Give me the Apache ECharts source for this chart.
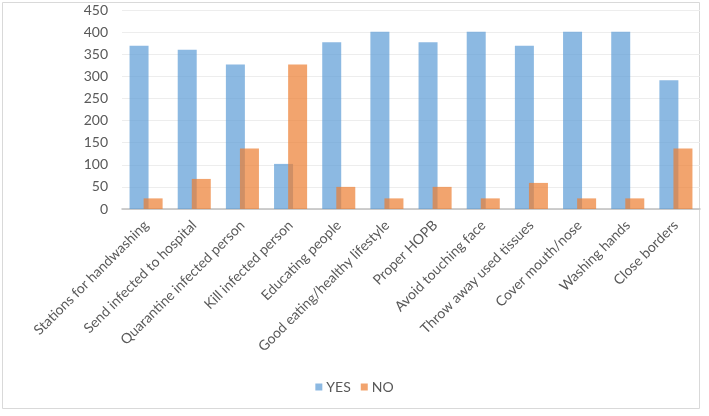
<!DOCTYPE html>
<html>
<head>
<meta charset="utf-8">
<script src="https://cdn.jsdelivr.net/npm/echarts@6/dist/echarts.min.js"></script>
<style>
html,body{margin:0;padding:0;background:#fff;}
#c{width:709px;height:416px;}
</style>
</head>
<body>
<div id="c"></div>
<script>
const categories = ["Stations for handwashing","Send infected to hospital","Quarantine infected person","Kill infected person","Educating people","Good eating/healthy lifestyle","Proper HOPB","Avoid touching face","Throw away used tissues","Cover mouth/nose","Washing hands","Close borders"];
const yesValues = [369,360,327,102,377,401,377,401,369,401,401,291];
const noValues = [24,68,137,327,50,24,50,24,59,24,24,137];
const seriesNames = ["YES","NO"];

const chart = echarts.init(document.getElementById('c'), null, {renderer:'canvas'});
const font = 'Lato, "Open Sans", sans-serif';
chart.setOption({
  animation:false,
  backgroundColor:'#fff',
  graphic:[{type:'rect',shape:{x:2.5,y:2.5,width:697,height:406},style:{fill:'none',stroke:'#D9D9D9',lineWidth:1},silent:true}],
  grid:{left:122,right:9,top:10,bottom:207,containLabel:false},
  legend:{
    data:seriesNames,bottom:17,left:'center',itemWidth:7,itemHeight:7,itemGap:10,icon:'rect',
    textStyle:{color:'#595959',fontSize:14,fontFamily:font,padding:[0,0,0,-1]}
  },
  xAxis:{
    type:'category',data:categories,
    axisLine:{lineStyle:{color:'#BFBFBF',width:1.5}},
    axisTick:{show:false},
    axisLabel:{rotate:45,interval:0,color:'#595959',fontSize:14,fontFamily:font,margin:14}
  },
  yAxis:{
    type:'value',min:0,max:450,interval:50,
    axisLine:{show:false},axisTick:{show:false},
    splitLine:{lineStyle:{color:'#EDEDED'}},
    axisLabel:{color:'#595959',fontSize:14,fontFamily:font,margin:14}
  },
  series:[
    {name:seriesNames[0],type:'bar',data:yesValues,barWidth:19,barGap:'-26%',
     itemStyle:{color:'rgba(91,155,213,0.7)'}},
    {name:seriesNames[1],type:'bar',data:noValues,barWidth:19,
     itemStyle:{color:'rgba(237,125,49,0.7)'}}
  ]
});
</script>
</body>
</html>
